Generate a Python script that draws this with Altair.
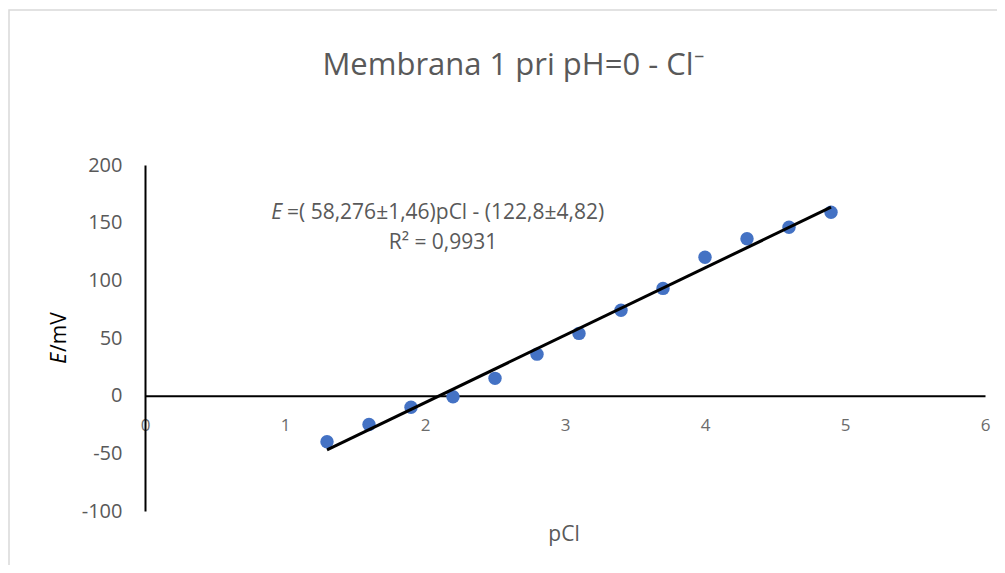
import altair as alt
import pandas as pd

# ---- data ----
pcl = [1.3, 1.6, 1.9, 2.2, 2.5, 2.8, 3.1, 3.4, 3.7, 4.0, 4.3, 4.6, 4.9]
e_mv = [-40, -25, -10, -1, 15, 36, 54, 74, 93, 120, 136, 146, 159]
x_ticks = [0, 1, 2, 3, 4, 5, 6]
y_ticks = [-100, -50, 0, 50, 100, 150, 200]
title_text = "Membrana 1 pri pH=0 - Cl\u207b"
eq_italic = "E"
eq_text = "=( 58,276\u00b11,46)pCl - (122,8\u00b14,82)"
r2_text = "R\u00b2 = 0,9931"
x_title = "pCl"
y_title_italic = "E"
y_title_rest = "/mV"

FONT = "Open Sans"
GRAY = "#595959"

df = pd.DataFrame({"pCl": pcl, "E": e_mv})
one = pd.DataFrame({"k": [0]})

W, H = 840, 346
HYPHEN = "datum.value < 0 ? '-' + abs(datum.value) : '' + datum.value"

x_enc = alt.X(
    "pCl:Q",
    scale=alt.Scale(domain=[0, 6], nice=False, zero=False),
    axis=alt.Axis(
        values=x_ticks, title=None, ticks=False, grid=False,
        domainColor="black", domainWidth=2,
        labelColor="#6b6b6b", labelFont=FONT, labelFontSize=17,
        labelPadding=22, labelFlush=False, labelOverlap=False,
        offset=-H * 100 / 300,
    ),
)
y_enc = alt.Y(
    "E:Q",
    scale=alt.Scale(domain=[-100, 200], nice=False, zero=False),
    axis=alt.Axis(
        values=y_ticks, title=None, ticks=False, grid=False,
        domainColor="black", domainWidth=2,
        labelColor=GRAY, labelFont=FONT, labelFontSize=20,
        labelPadding=23, labelFlush=False, labelOverlap=False,
        labelExpr=HYPHEN,
    ),
)

base = alt.Chart(df)

border = alt.Chart(one).mark_rect(
    fillOpacity=0, stroke="#d9d9d9", strokeWidth=1.5
).encode(
    x=alt.value(-136), x2=alt.value(880), y=alt.value(-155), y2=alt.value(430)
)

points = base.mark_circle(size=180, color="#4472C4", opacity=1).encode(x=x_enc, y=y_enc)

trend = base.transform_regression("pCl", "E").mark_line(
    color="black", strokeWidth=3
).encode(x=x_enc, y=y_enc)


def txt(text, x, y, size, align="center", italic=False, angle=0, color=GRAY):
    kw = dict(text=text, font=FONT, fontSize=size, align=align,
              baseline="middle", color=color)
    if italic:
        kw["fontStyle"] = "italic"
    if angle:
        kw["angle"] = angle
    return alt.Chart(one).mark_text(**kw).encode(x=alt.value(x), y=alt.value(y))


texts = [
    txt(title_text, 368, -99, 31),
    txt(eq_italic, 137, 48, 21, align="right", italic=True),
    txt(eq_text, 142, 48, 21, align="left"),
    txt(r2_text, 298, 78, 21),
    txt(x_title, 419, 370, 21),
    txt(y_title_italic, -85, 188, 21, align="right", italic=True, angle=270, color="black"),
    txt(y_title_rest, -85, 187, 21, align="left", angle=270, color="black"),
]

chart = alt.layer(border, points, trend, *texts).properties(
    width=W, height=H,
    autosize=alt.AutoSizeParams(type="none"),
    padding={"left": 137, "top": 157, "right": 12, "bottom": 54},
    background="white",
).configure_view(strokeWidth=0)

chart.save("out.html", embed_options={"renderer": "svg", "actions": False})
